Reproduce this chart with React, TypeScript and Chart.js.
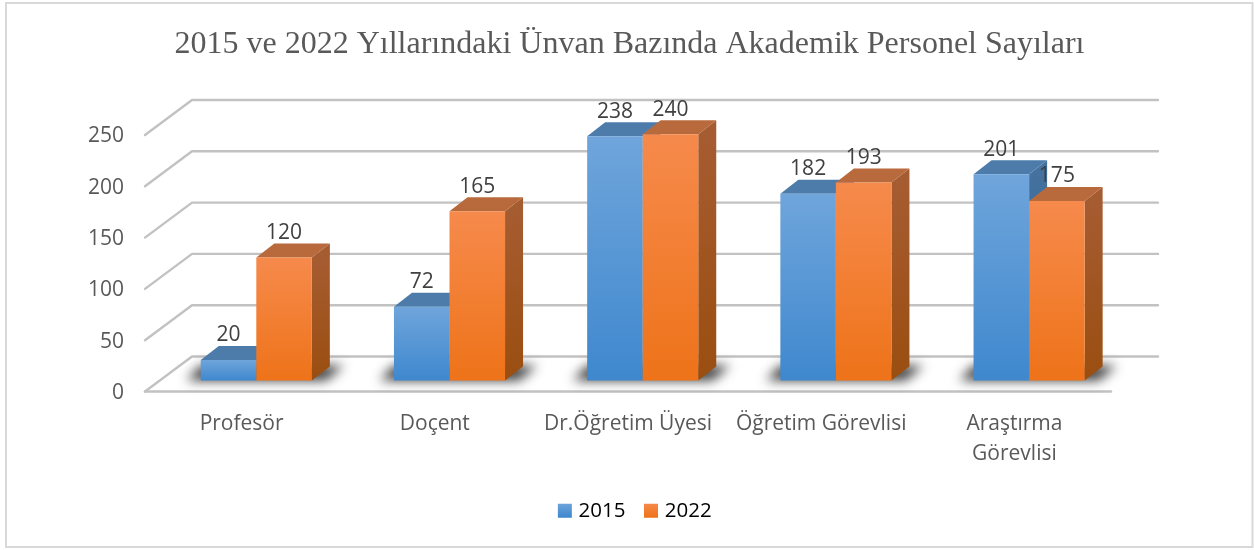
import React, { useEffect, useRef } from "react";
import { Chart, registerables } from "chart.js";

Chart.register(...registerables);

const categories: (string | string[])[] = ["Profesör", "Doçent", "Dr.Öğretim Üyesi", "Öğretim Görevlisi", ["Araştırma", "Görevlisi"]];
const values2015 = [20, 72, 238, 182, 201];
const values2022 = [120, 165, 240, 193, 175];
const yTicks = [0, 50, 100, 150, 200, 250];
const titleText = "2015 ve 2022 Yıllarındaki Ünvan Bazında Akademik Personel Sayıları";

const AXIS_LEFT = 145;
const WALL_DX = 47;
const WALL_DY = -35;
const BAR_DX = 14.7;
const BAR_DY = -11;
const DEPTH_DX = 18;
const DEPTH_DY = -14;
const FONT = "'Open Sans'";

const palette = [
  { top: "#6fa5db", bottom: "#3f88ce", cap: "#4d7cab", sideTop: "#44719e", sideBottom: "#2f6496" },
  { top: "#f68a4c", bottom: "#ee7319", cap: "#b96a3c", sideTop: "#a65c31", sideBottom: "#9a4e10" },
];

function poly(ctx: CanvasRenderingContext2D, pts: number[][]) {
  ctx.beginPath();
  pts.forEach((p, i) => (i ? ctx.lineTo(p[0], p[1]) : ctx.moveTo(p[0], p[1])));
  ctx.closePath();
}

const scene = {
  id: "scene",
  afterLayout(chart: any) {
    chart.legend.left += 7;
    chart.legend.right += 7;
  },
  beforeDraw(chart: any) {
    const ctx: CanvasRenderingContext2D = chart.ctx;
    ctx.save();
    ctx.fillStyle = "#ffffff";
    ctx.fillRect(0, 0, chart.width, chart.height);
    ctx.strokeStyle = "#d9d9d9";
    ctx.lineWidth = 2;
    ctx.strokeRect(6, 3, 1246.5, 544);
    ctx.restore();
  },
  beforeDatasetsDraw(chart: any) {
    const ctx: CanvasRenderingContext2D = chart.ctx;
    const { x, y } = chart.scales;
    const l = x.left, r = x.right;
    ctx.save();
    ctx.strokeStyle = "#c2c2c2";
    ctx.lineWidth = 2.4;
    ctx.lineJoin = "round";
    ctx.lineCap = "round";
    yTicks.forEach((v) => {
      const py = y.getPixelForValue(v);
      ctx.beginPath();
      ctx.moveTo(l, py);
      ctx.lineTo(l + WALL_DX, py + WALL_DY);
      ctx.lineTo(r + WALL_DX, py + WALL_DY);
      ctx.stroke();
    });
    const y0 = y.getPixelForValue(0);
    ctx.beginPath();
    ctx.moveTo(l, y0);
    ctx.lineTo(r, y0);
    ctx.stroke();
    ctx.restore();

    const metas = [chart.getDatasetMeta(0), chart.getDatasetMeta(1)];
    const base = y0 + BAR_DY;
    // floor shadows
    categories.forEach((_, i) => {
      const a = metas[0].data[i], b = metas[1].data[i];
      const gl = a.x - a.width / 2 + BAR_DX, gr = b.x + b.width / 2 + BAR_DX;
      ctx.save();
      ctx.filter = "blur(6px)";
      ctx.fillStyle = "rgba(25,25,25,0.85)";
      poly(ctx, [[gl - 14, base], [gl, base + DEPTH_DY - 1], [gr + 32, base + DEPTH_DY - 1], [gr + 14, base]]);
      ctx.fill();
      ctx.restore();
    });
    // bars
    categories.forEach((_, i) => {
      metas.forEach((meta, d) => {
        const el = meta.data[i];
        const c = palette[d];
        const xl = el.x - el.width / 2, xr = el.x + el.width / 2;
        ctx.save();
        ctx.translate(BAR_DX, BAR_DY);
        const side = ctx.createLinearGradient(0, el.y, 0, el.base);
        side.addColorStop(0, c.sideTop);
        side.addColorStop(1, c.sideBottom);
        ctx.fillStyle = side;
        poly(ctx, [[xr, el.y], [xr + DEPTH_DX, el.y + DEPTH_DY], [xr + DEPTH_DX, el.base + DEPTH_DY], [xr, el.base]]);
        ctx.fill();
        ctx.fillStyle = c.cap;
        poly(ctx, [[xl, el.y], [xl + DEPTH_DX, el.y + DEPTH_DY], [xr + DEPTH_DX, el.y + DEPTH_DY], [xr, el.y]]);
        ctx.fill();
        el.draw(ctx, chart.chartArea);
        ctx.restore();
      });
    });
    // value labels
    ctx.save();
    ctx.font = `21px ${FONT}`;
    ctx.fillStyle = "#404040";
    ctx.textAlign = "center";
    ctx.textBaseline = "middle";
    metas.forEach((meta, d) => {
      const vals = d === 0 ? values2015 : values2022;
      meta.data.forEach((el: any, i: number) => {
        ctx.fillText(String(vals[i]), el.x + BAR_DX, el.y + BAR_DY - 24.5);
      });
    });
    ctx.restore();
    return false;
  },
};

function barFill(d: number) {
  return (c: any) => {
    if (c.type !== "data" || !c.chart.scales.y) return palette[d].bottom;
    const y = c.chart.scales.y;
    const g = c.chart.ctx.createLinearGradient(0, y.getPixelForValue(c.parsed.y), 0, y.getPixelForValue(0));
    g.addColorStop(0, palette[d].top);
    g.addColorStop(1, palette[d].bottom);
    return g;
  };
}

export default function App() {
  const ref = useRef<HTMLCanvasElement>(null);
  useEffect(() => {
    document.body.style.margin = "0";
    const canvas = ref.current!;
    const ctx2d = canvas.getContext("2d")!;
    const chart = new Chart(canvas, {
      type: "bar",
      data: {
        labels: categories as any,
        datasets: [
          { label: "2015", data: values2015, backgroundColor: barFill(0) as any, borderWidth: 0 },
          { label: "2022", data: values2022, backgroundColor: barFill(1) as any, borderWidth: 0 },
        ],
      },
      options: {
        responsive: false,
        animation: false,
        devicePixelRatio: 1,
        layout: { padding: { left: 6, right: 1, top: 0, bottom: 19 } },
        datasets: { bar: { barPercentage: 1, categoryPercentage: 0.575 } },
        plugins: {
          tooltip: { enabled: false },
          title: {
            display: true,
            text: titleText,
            color: "#595959",
            font: { family: "'Liberation Serif'", size: 32, weight: "normal" },
            padding: { top: 25, bottom: 71.6 },
          },
          legend: {
            position: "bottom",
            labels: {
              usePointStyle: true,
              boxWidth: 7,
              boxHeight: 14,
              color: "#595959",
              font: { family: FONT, size: 20.5 },
              padding: 22,
              generateLabels: () =>
                [0, 1].map((d) => {
                  const g = ctx2d.createLinearGradient(0, 503, 0, 517);
                  g.addColorStop(0, palette[d].top);
                  g.addColorStop(1, palette[d].bottom);
                  return { text: d ? "2022" : "2015", fillStyle: g, strokeStyle: "transparent", lineWidth: 0, pointStyle: "rect", datasetIndex: d, hidden: false } as any;
                }),
            },
          },
        },
        scales: {
          x: {
            grid: { display: false },
            border: { display: false },
            afterFit: (s: any) => { s.height = 87; },
            ticks: {
              autoSkip: false,
              maxRotation: 0,
              minRotation: 0,
              color: "#595959",
              padding: 10,
              font: { family: FONT, size: 21, lineHeight: 1.42 },
            },
          },
          y: {
            min: 0,
            max: 250,
            afterBuildTicks: (s: any) => { s.ticks = yTicks.map((v) => ({ value: v })); },
            grid: { display: false, drawTicks: false },
            border: { display: false },
            afterFit: (s: any) => { s.width = AXIS_LEFT - 6; },
            ticks: {
              color: "#595959",
              padding: 21,
              labelOffset: 1.5,
              font: { family: FONT, size: 21 },
            },
          },
          // empty right-hand box: keeps the plot clear of the right margin
          yRight: {
            position: "right",
            display: true,
            grid: { display: false, drawTicks: false },
            border: { display: false },
            ticks: { display: false },
            afterFit: (s: any) => { s.width = 142; },
          },
        },
      },
      plugins: [scene],
    } as any);
    return () => chart.destroy();
  }, []);
  return <canvas ref={ref} width={1254} height={550} style={{ display: "block" }} />;
}
